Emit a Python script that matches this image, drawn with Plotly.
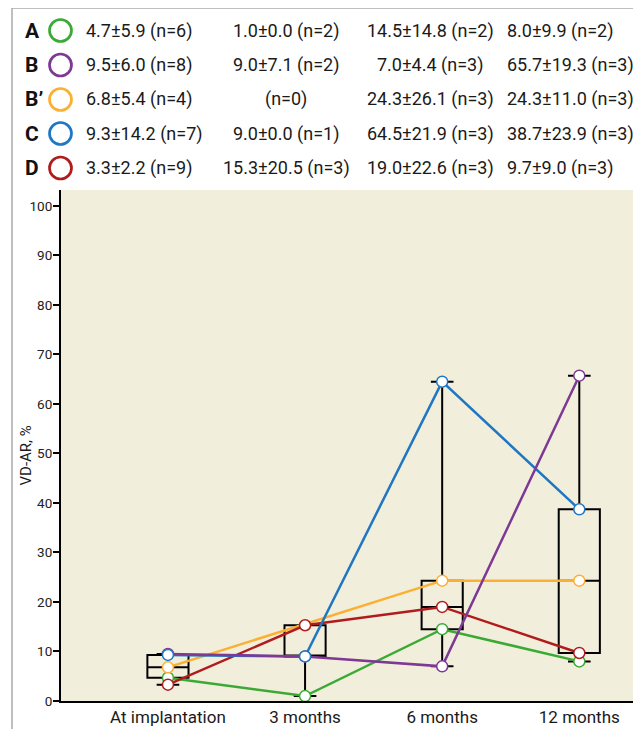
import plotly.graph_objects as go

# ---------------- data ----------------
timepoints = ["At implantation", "3 months", "6 months", "12 months"]
groups = ["A", "B", "B’", "C", "D"]
colors = ["#3aaa35", "#7d3994", "#fbb034", "#1f77c4", "#b01c1c"]

mean_A = [4.7, 1.0, 14.5, 8.0]
mean_B = [9.5, 9.0, 7.0, 65.7]
mean_Bp = [6.8, None, 24.3, 24.3]
mean_C = [9.3, 9.0, 64.5, 38.7]
mean_D = [3.3, 15.3, 19.0, 9.7]

sd_A = [5.9, 0.0, 14.8, 9.9]
sd_B = [6.0, 7.1, 4.4, 19.3]
sd_Bp = [5.4, None, 26.1, 11.0]
sd_C = [14.2, 0.0, 21.9, 23.9]
sd_D = [2.2, 20.5, 22.6, 9.0]

n_A = [6, 2, 2, 2]
n_B = [8, 2, 3, 3]
n_Bp = [4, 0, 3, 3]
n_C = [7, 1, 3, 3]
n_D = [9, 3, 3, 3]

box_lower = [3.3, 1.0, 7.0, 8.0]
box_q1 = [4.7, 9.0, 14.5, 9.7]
box_median = [6.8, 9.0, 19.0, 24.3]
box_q3 = [9.3, 15.3, 24.3, 38.7]
box_upper = [9.5, 15.3, 64.5, 65.7]

yticks = list(range(0, 101, 10))
y_title = "VD-AR, %"

means = [mean_A, mean_B, mean_Bp, mean_C, mean_D]
sds = [sd_A, sd_B, sd_Bp, sd_C, sd_D]
ns = [n_A, n_B, n_Bp, n_C, n_D]

FONT = "Roboto, Liberation Sans, sans-serif"

# ---------------- layout geometry (pixels) ----------------
OFF = 8  # page body margin
W, H = 633, 721
ML, MR, MT, MB = 53, 0, 182, 28
PW = W - ML - MR
PH = H - MT - MB


def px(x):  # x in screenshot pixels -> paper
    return (x - OFF - ML) / PW


def py(y):  # y in screenshot pixels -> paper
    return (MT + PH - (y - OFF)) / PH


fig = go.Figure()

fig.add_trace(go.Box(
    x=timepoints,
    q1=box_q1, median=box_median, q3=box_q3,
    lowerfence=box_lower, upperfence=box_upper,
    width=0.3, whiskerwidth=0.55,
    line=dict(color="black", width=2),
    fillcolor="rgba(0,0,0,0)",
    hoverinfo="skip", showlegend=False,
))

# lines (draw order bottom -> top: A, B', D, C, B)
line_order = [0, 2, 4, 3, 1]
for i in line_order:
    fig.add_trace(go.Scatter(
        x=timepoints, y=means[i], mode="lines", connectgaps=True,
        line=dict(color=colors[i], width=2.5), showlegend=False,
        hoverinfo="skip",
    ))

marker_order = [0, 1, 2, 4, 3]
for i in marker_order:
    fig.add_trace(go.Scatter(
        x=timepoints, y=means[i], mode="markers",
        marker=dict(size=11, color="white",
                    line=dict(color=colors[i], width=1.5)),
        name=groups[i], showlegend=False, cliponaxis=False,
    ))

# ---------------- table header ----------------
annotations = []
shapes = []
row_y = [30.5, 65, 99.5, 133.5, 168]
col_specs = [(84, "left"), (286, "center"), (430, "center"), (505, "left")]


def cell_text(m, s, n):
    if m is None:
        return f"(n={n})"
    return f"{m:.1f}±{s:.1f} (n={n})"


for gi, g in enumerate(groups):
    yc = row_y[gi]
    annotations.append(dict(
        x=px(23), y=py(yc), xref="paper", yref="paper",
        text=f"<b>{g}</b>", showarrow=False, xanchor="left", yanchor="middle",
        font=dict(family=FONT, size=21, color="#111"),
    ))
    r = 11
    shapes.append(dict(
        type="circle", xref="paper", yref="paper",
        x0=px(60.5 - r), x1=px(60.5 + r), y0=py(yc + r), y1=py(yc - r),
        line=dict(color=colors[gi], width=2.7), fillcolor="rgba(0,0,0,0)",
    ))
    for ti, (cx, anc) in enumerate(col_specs):
        annotations.append(dict(
            x=px(cx), y=py(yc), xref="paper", yref="paper",
            text=cell_text(means[gi][ti], sds[gi][ti], ns[gi][ti]),
            showarrow=False, xanchor=anc, yanchor="middle",
            font=dict(family=FONT, size=18, color="#1a1a1a"),
        ))

# y-axis title as rotated annotation
annotations.append(dict(
    x=px(25.5), y=py(456), xref="paper", yref="paper", text=y_title,
    textangle=-90, showarrow=False, xanchor="center", yanchor="middle",
    font=dict(family=FONT, size=15, color="#1a1a1a"),
))

# outer frame (top and left edges)
shapes.append(dict(type="line", xref="paper", yref="paper",
                   x0=px(12), x1=px(W + 20), y0=py(8), y1=py(8),
                   line=dict(color="#aaaaaa", width=1.5)))
shapes.append(dict(type="line", xref="paper", yref="paper",
                   x0=px(12), x1=px(12), y0=py(8), y1=py(H + 20),
                   line=dict(color="#aaaaaa", width=1.5)))

fig.update_layout(
    width=W, height=H,
    margin=dict(l=ML, r=MR, t=MT, b=MB, pad=0),
    paper_bgcolor="white",
    plot_bgcolor="#f2eedc",
    font=dict(family=FONT, size=14, color="#1a1a1a"),
    annotations=annotations,
    shapes=shapes,
    showlegend=False,
    xaxis=dict(
        type="category", categoryorder="array", categoryarray=timepoints,
        range=[-0.78, 3.45], showline=True, linecolor="black", linewidth=2,
        ticks="", ticklen=0, showgrid=False, zeroline=False,
        tickfont=dict(family=FONT, size=17, color="#1a1a1a"),
    ),
    yaxis=dict(
        range=[0, 103.2], tickvals=yticks, showline=True, linecolor="black",
        linewidth=2, ticks="outside", ticklen=6, tickwidth=1.5,
        tickcolor="black", showgrid=False, zeroline=False,
        ticklabelstandoff=-2,
        tickfont=dict(family=FONT, size=13.5, color="#222"),
    ),
)

fig.write_html("out.html")
